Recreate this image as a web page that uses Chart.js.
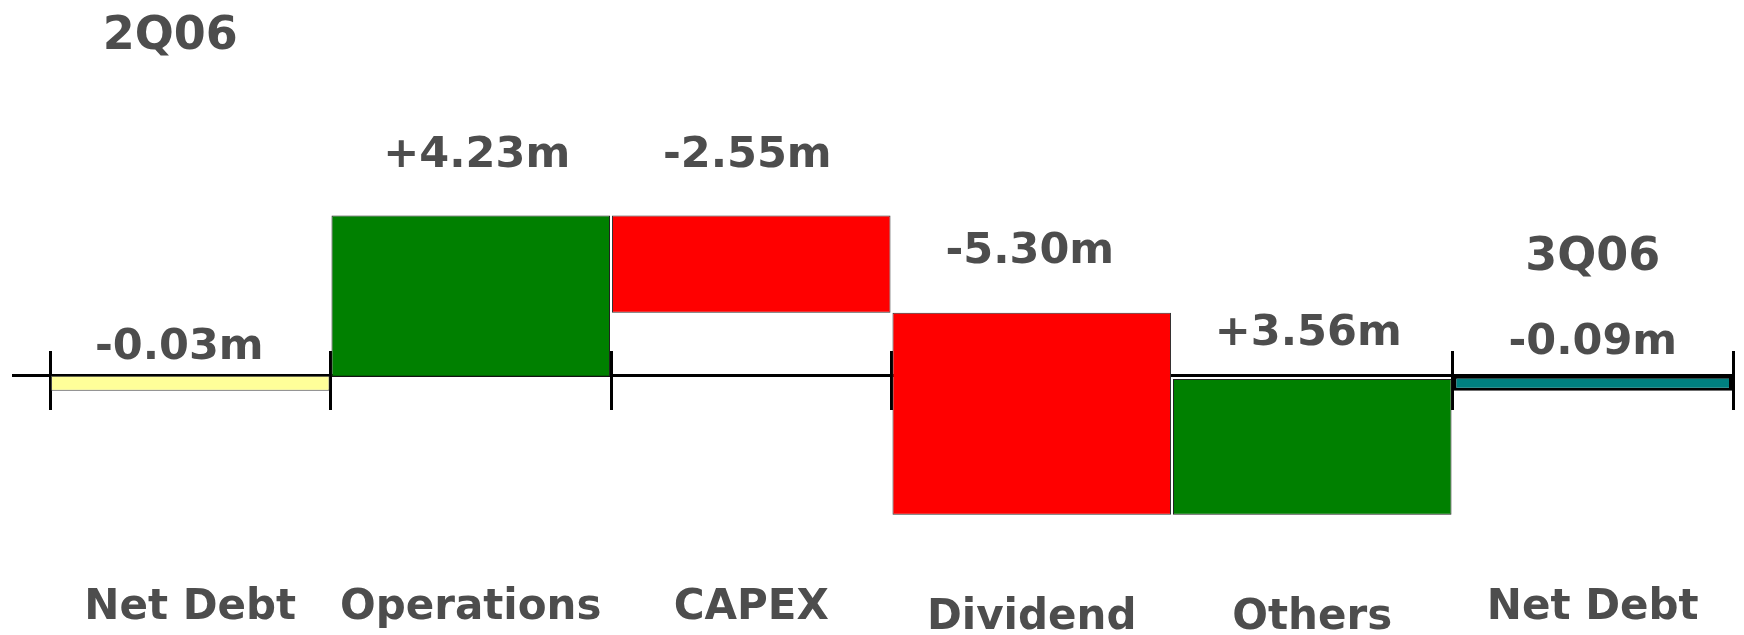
<!DOCTYPE html>
<html>
<head>
<meta charset="utf-8">
<title>Net Debt 2Q06 - 3Q06</title>
<script src="https://cdn.jsdelivr.net/npm/chart.js@4.4.1/dist/chart.umd.min.js"></script>
<style>
  html, body { margin: 0; padding: 0; background: #ffffff; }
  canvas { display: block; }
</style>
</head>
<body>
<canvas id="bridge" width="1744" height="635"></canvas>
<script>
// Net debt bridge from 2Q06 to 3Q06, figures in millions
const categories = ['Net Debt', 'Operations', 'CAPEX', 'Dividend', 'Others', 'Net Debt'];
const openingNetDebt = -0.03;
const movements = [4.23, -2.55, -5.30, 3.56];
const closingNetDebt = -0.09;
const periodLabels = ['2Q06', '3Q06'];

const round2 = v => Math.round(v * 100) / 100;

// Floating [start, end] range of every bar: the two net debt bars hang from zero,
// each movement starts where the previous one ended.
const ranges = [[0, openingNetDebt]];
let running = openingNetDebt;
movements.forEach(m => {
  const next = round2(running + m);
  ranges.push([running, next]);
  running = next;
});
ranges.push([0, closingNetDebt]);

const amounts = [openingNetDebt, ...movements, closingNetDebt];
const valueLabels = amounts.map((v, i) => {
  const isMovement = i > 0 && i < amounts.length - 1;
  return (isMovement && v > 0 ? '+' : '') + v.toFixed(2) + 'm';
});

const TEXT = '#4d4d4d';
const FAMILY = "'DejaVu Sans', Verdana, sans-serif";
Chart.defaults.font.family = FAMILY;

// Value and period captions placed above each bar's upper edge
const barLabels = {
  id: 'barLabels',
  afterDatasetsDraw(chart, args, opts) {
    const ctx = chart.ctx;
    const bars = chart.getDatasetMeta(0).data;
    ctx.save();
    ctx.fillStyle = opts.color;
    ctx.textAlign = 'center';
    ctx.textBaseline = 'middle';
    ctx.font = opts.font;
    bars.forEach((bar, i) => {
      const top = Math.min(bar.y, bar.base);
      ctx.fillText(valueLabels[i], bar.x + opts.shift[i], top - opts.lift[i]);
    });
    ctx.font = opts.periodFont;
    opts.periods.forEach((p, k) => {
      const bar = bars[p.at];
      const top = Math.min(bar.y, bar.base);
      ctx.fillText(periodLabels[k], bar.x + p.dx, top - p.lift);
    });
    ctx.restore();
  }
};

// Category names sit well below the zero line; the middle pair drops a little lower
const tickLineHeights = [9.43, 9.43, 9.43, 9.9, 9.9, 9.43];

new Chart(document.getElementById('bridge'), {
  type: 'bar',
  data: {
    labels: categories,
    datasets: [{
      data: ranges,
      backgroundColor: ['#ffff99', '#008000', '#ff0000', '#ff0000', '#008000', '#008080'],
      borderColor: ['#444444', '#222222', '#333333', '#333333', '#222222', '#000000'],
      borderWidth: [1, 1, 1, 1, 1, 3],
      borderSkipped: false,
      minBarLength: 15,
      // a non-zero reference keeps the very short net debt bars hanging below zero
      base: 1e-6,
      categoryPercentage: 1,
      barPercentage: 0.993
    }]
  },
  options: {
    responsive: false,
    animation: false,
    events: [],
    layout: { padding: { left: 12, right: 11, top: 0, bottom: 0 } },
    plugins: {
      legend: { display: false },
      tooltip: { enabled: false },
      barLabels: {
        color: TEXT,
        font: 'bold 43px ' + FAMILY,
        periodFont: 'bold 46px ' + FAMILY,
        lift: [28, 60, 60, 61, 45, 33],
        shift: [-11, 6, -4, -2, -4, 0],
        periods: [{ at: 0, dx: -20, lift: 339 }, { at: 5, dx: 0, lift: 118 }]
      }
    },
    scales: {
      y: {
        min: -6.8,
        max: 9.85,
        position: 'left',
        ticks: { display: false, stepSize: 1 },
        border: { display: false },
        grid: {
          // only the zero line is drawn, running out past the left edge
          color: ctx => (ctx.tick && ctx.tick.value === 0) ? '#000000' : 'rgba(0,0,0,0)',
          lineWidth: 3,
          drawTicks: true,
          tickLength: 38
        }
      },
      x: {
        position: { y: 0.65 },
        z: 1,
        border: { display: false },
        grid: {
          offset: true,
          drawOnChartArea: false,
          drawTicks: true,
          tickLength: 59,
          lineWidth: 3,
          color: ctx => ctx.index === 4 ? 'rgba(0,0,0,0)' : '#000000'
        },
        ticks: {
          autoSkip: false,
          maxRotation: 0,
          minRotation: 0,
          padding: 0,
          color: TEXT,
          font: ctx => ({ family: FAMILY, size: 42, weight: 'bold', lineHeight: tickLineHeights[ctx.index] || 9.43 })
        }
      }
    }
  },
  plugins: [barLabels]
});
</script>
</body>
</html>
